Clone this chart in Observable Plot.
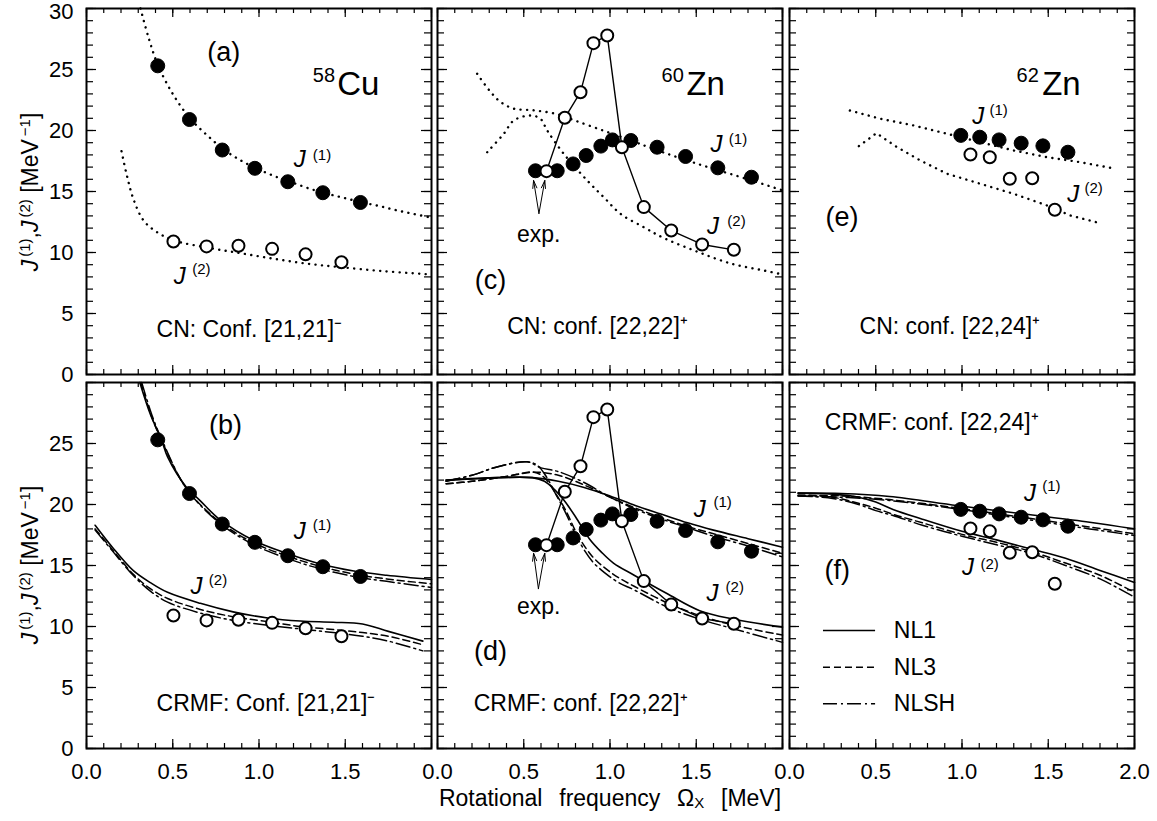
<!DOCTYPE html>
<html><head><meta charset="utf-8">
<script src="https://cdn.jsdelivr.net/npm/d3@7"></script>
<script src="https://cdn.jsdelivr.net/npm/@observablehq/plot@0.6"></script>
<style>
body{margin:0;background:#fff;}
#chart{position:relative;width:1157px;height:821px;background:#fff;font-family:'Liberation Sans',Arial,Helvetica,sans-serif;color:#000;overflow:hidden}
#chart svg{position:absolute}
.ytitle{position:absolute;white-space:nowrap;font-size:23px;line-height:23px;transform:translate(-50%,-50%) rotate(-90deg);}
.ytitle sup{font-size:15px;line-height:0;vertical-align:0.55em;margin-left:3px}
.xtitle{position:absolute;white-space:pre;font-size:23px;line-height:23px;word-spacing:2px;transform:translateX(-50%)}
.xtitle sub{font-size:15px;line-height:0;vertical-align:-0.15em}
</style></head><body><div id="chart"></div><script>
// ---------------- data ----------------
// axis ticks
const xTicks = [0.0,0.1,0.2,0.3,0.4,0.5,0.6,0.7,0.8,0.9,1.0,1.1,1.2,1.3,1.4,1.5,1.6,1.7,1.8,1.9,2.0];
const xMajorTicks = [0.0,0.5,1.0,1.5,2.0];
const yTicks = [0,1,2,3,4,5,6,7,8,9,10,11,12,13,14,15,16,17,18,19,20,21,22,23,24,25,26,27,28,29,30];
const yMajorTicks = [0,5,10,15,20,25,30];
const xTickLabels = [0.0,0.5,1.0,1.5];
const xTickLabelsLast = [0.0,0.5,1.0,1.5,2.0];
const yTickLabelsTop = [0,5,10,15,20,25];
const yTickLabelTopmost = [30];
const yTickLabelsBottom = [0,5,10,15,20,25];
const legendNames = ["NL1","NL3","NLSH"];

// 58Cu  (omega [MeV], J [MeV^-1])
const cu58ExpJ1 = [[0.413,25.3],[0.597,20.9],[0.787,18.4],[0.976,16.9],[1.167,15.8],[1.370,14.9],[1.588,14.1]];
const cu58ExpJ2 = [[0.504,10.9],[0.696,10.5],[0.881,10.55],[1.076,10.3],[1.270,9.85],[1.478,9.2]];
const cu58CnJ1 = [[0.313,30],[0.36,27.6],[0.413,25.4],[0.5,23.0],[0.6,21.0],[0.7,19.6],[0.8,18.4],[0.9,17.5],[1.0,16.8],[1.1,16.2],[1.2,15.7],[1.3,15.2],[1.4,14.8],[1.5,14.45],[1.6,14.1],[1.7,13.8],[1.8,13.45],[1.9,13.15],[2.0,12.85]];
const cu58CnJ2 = [[0.203,18.3],[0.236,16.2],[0.274,14.3],[0.332,12.6],[0.41,11.66],[0.504,11.0],[0.7,10.4],[0.89,9.95],[1.08,9.5],[1.27,9.1],[1.47,8.8],[1.72,8.47],[2.0,8.2]];
const cu58Nl1J1 = [[0.309,30],[0.37,27.4],[0.435,25.3],[0.47,23.9],[0.58,21.4],[0.66,20.3],[0.77,18.8],[0.97,17.05],[1.16,16.0],[1.35,15.15],[1.55,14.55],[1.74,14.2],[2.0,13.85]];
const cu58Nl3J1 = [[0.315,30],[0.375,27.3],[0.44,25.1],[0.58,21.3],[0.77,18.6],[0.97,16.85],[1.16,15.8],[1.35,14.95],[1.55,14.3],[1.74,13.9],[2.0,13.5]];
const cu58NlshJ1 = [[0.32,30],[0.38,27.3],[0.44,25.2],[0.58,21.3],[0.77,18.5],[0.97,16.7],[1.16,15.6],[1.35,14.75],[1.55,14.1],[1.74,13.7],[2.0,13.2]];
const cu58Nl1J2 = [[0.05,18.3],[0.15,16.5],[0.27,14.6],[0.37,13.6],[0.47,12.8],[0.66,11.9],[0.85,11.2],[1.05,10.7],[1.24,10.45],[1.43,10.35],[1.6,10.2],[1.75,9.6],[1.95,8.8]];
const cu58Nl3J2 = [[0.05,18.0],[0.15,16.3],[0.27,14.3],[0.37,13.1],[0.47,12.3],[0.66,11.4],[0.85,10.8],[1.05,10.4],[1.24,10.0],[1.43,9.75],[1.6,9.5],[1.75,9.2],[1.95,8.5]];
const cu58NlshJ2 = [[0.05,17.9],[0.15,16.2],[0.27,14.2],[0.37,12.9],[0.47,12.0],[0.66,11.1],[0.85,10.5],[1.05,10.1],[1.24,9.8],[1.43,9.5],[1.6,9.2],[1.75,8.8],[1.95,8.0]];

// 60Zn
const zn60ExpJ1 = [[0.568,16.7],[0.694,16.7],[0.786,17.26],[0.862,17.95],[0.947,18.72],[1.014,19.23],[1.121,19.18],[1.273,18.63],[1.438,17.87],[1.625,16.94],[1.820,16.17]];
const zn60ExpJ2 = [[0.632,16.67],[0.738,21.04],[0.829,23.14],[0.904,27.16],[0.984,27.79],[1.069,18.63],[1.196,13.72],[1.355,11.80],[1.534,10.66],[1.718,10.22]];
const zn60CnJ1 = [[0.23,24.65],[0.30,23.3],[0.36,22.4],[0.44,21.8],[0.56,21.65],[0.69,21.35],[0.80,20.8],[0.96,20.0],[1.1,19.3],[1.25,18.5],[1.5,17.3],[1.8,16.0],[2.0,15.1]];
const zn60CnJ2 = [[0.288,18.22],[0.384,19.73],[0.442,20.82],[0.539,21.23],[0.597,20.96],[0.636,20.0],[0.732,18.09],[0.868,15.9],[0.964,14.53],[1.061,13.17],[1.196,12.07],[1.31,11.2],[1.5,10.1],[1.7,9.1],[1.9,8.5],[2.0,8.2]];
const zn60Nl1J1 = [[0.05,22.0],[0.2,22.1],[0.35,22.2],[0.55,22.2],[0.7,21.9],[0.85,21.4],[1.0,20.7],[1.15,19.9],[1.3,19.2],[1.45,18.5],[1.6,17.9],[1.8,17.2],[2.0,16.5]];
const zn60Nl3J1 = [[0.05,21.7],[0.2,21.9],[0.4,22.3],[0.56,22.65],[0.7,22.4],[0.85,21.6],[1.0,20.6],[1.15,19.7],[1.3,18.9],[1.45,18.2],[1.6,17.6],[1.8,16.8],[2.0,16.0]];
const zn60NlshJ1 = [[0.05,21.9],[0.2,22.4],[0.35,23.1],[0.52,23.5],[0.6,23.0],[0.7,22.7],[0.85,21.8],[1.0,20.6],[1.15,19.6],[1.3,18.8],[1.45,18.1],[1.6,17.4],[1.8,16.6],[2.0,15.7]];
const zn60Nl1J2 = [[0.05,22.0],[0.35,22.2],[0.55,22.2],[0.62,21.9],[0.68,21.2],[0.73,20.4],[0.8,19.0],[0.88,17.2],[0.95,16.1],[1.02,15.2],[1.14,14.2],[1.33,12.7],[1.52,11.3],[1.72,10.6],[2.0,9.95]];
const zn60Nl3J2 = [[0.05,21.7],[0.2,21.9],[0.4,22.3],[0.56,22.65],[0.62,22.2],[0.68,21.0],[0.74,19.6],[0.82,17.3],[0.9,15.7],[0.97,14.8],[1.05,14.0],[1.14,13.3],[1.33,11.95],[1.52,10.9],[1.72,10.1],[2.0,9.3]];
const zn60NlshJ2 = [[0.05,21.9],[0.2,22.4],[0.35,23.1],[0.52,23.5],[0.58,23.2],[0.63,22.3],[0.68,21.0],[0.74,19.4],[0.82,17.0],[0.9,15.3],[0.97,14.4],[1.05,13.6],[1.14,13.0],[1.33,11.6],[1.52,10.6],[1.72,9.8],[2.0,8.7]];

// 62Zn
const zn62ExpJ1 = [[0.993,19.6],[1.103,19.45],[1.215,19.23],[1.343,18.96],[1.469,18.74],[1.614,18.22]];
const zn62ExpJ2 = [[1.049,18.03],[1.161,17.81],[1.277,16.04],[1.407,16.09],[1.538,13.5]];
const zn62CnJ1 = [[0.35,21.64],[0.528,20.96],[0.721,20.41],[0.914,19.73],[1.107,19.04],[1.3,18.36],[1.494,17.81],[1.687,17.4],[1.861,16.94]];
const zn62CnJ2 = [[0.402,18.72],[0.504,19.78],[0.624,18.63],[0.759,17.54],[0.914,16.45],[1.107,15.63],[1.3,14.81],[1.494,13.85],[1.629,13.03],[1.78,12.48]];
const zn62Nl1J1 = [[0.05,20.93],[0.3,20.9],[0.58,20.66],[0.97,19.92],[1.35,19.24],[1.74,18.55],[2.0,18.0]];
const zn62Nl3J1 = [[0.05,20.75],[0.3,20.7],[0.58,20.4],[0.97,19.72],[1.35,18.95],[1.74,18.15],[2.0,17.6]];
const zn62NlshJ1 = [[0.05,20.7],[0.3,20.6],[0.58,20.33],[0.97,19.64],[1.35,18.83],[1.74,18.0],[2.0,17.46]];
const zn62Nl1J2 = [[0.05,20.93],[0.25,20.85],[0.4,20.6],[0.5,20.2],[0.6,19.6],[0.77,18.8],[1.0,17.8],[1.2,17.1],[1.4,16.35],[1.6,15.6],[1.8,14.6],[2.0,13.6]];
const zn62Nl3J2 = [[0.05,20.75],[0.25,20.6],[0.4,20.1],[0.5,19.7],[0.6,19.2],[0.77,18.5],[1.0,17.55],[1.2,16.9],[1.4,16.15],[1.6,15.2],[1.8,14.2],[2.0,12.8]];
const zn62NlshJ2 = [[0.05,20.7],[0.25,20.5],[0.4,20.0],[0.5,19.5],[0.6,19.1],[0.77,18.3],[1.0,17.4],[1.2,16.7],[1.4,16.0],[1.6,15.0],[1.8,13.9],[2.0,12.4]];

// ---------------- drawing ----------------
const W = 345, H = 366;
const FONT = "'Liberation Sans', Arial, Helvetica, sans-serif";
const chart = document.getElementById("chart");
const X = d => d[0], Y = d => d[1];

const dotted = (data, curve = "catmull-rom") => Plot.line(data, {x: X, y: Y, curve, stroke: "black", strokeWidth: 2.4, strokeLinecap: "round", strokeDasharray: "0.1,6.4"});
const nl1 = data => Plot.line(data, {x: X, y: Y, curve: "catmull-rom", stroke: "black", strokeWidth: 1.6});
const nl3 = data => Plot.line(data, {x: X, y: Y, curve: "catmull-rom", stroke: "black", strokeWidth: 1.5, strokeDasharray: "7,4"});
const nlsh = data => Plot.line(data, {x: X, y: Y, curve: "catmull-rom", stroke: "black", strokeWidth: 1.5, strokeDasharray: "14,4,2,4"});
const filled = data => Plot.dot(data, {x: X, y: Y, r: 7, fill: "black", stroke: "black", strokeWidth: 1});
const open = data => Plot.dot(data, {x: X, y: Y, r: 6, fill: "white", stroke: "black", strokeWidth: 2});
const connect = data => Plot.line(data, {x: X, y: Y, stroke: "black", strokeWidth: 1.4});

function txt(s, x, y, o = {}) {
  return Plot.text([s], {x, y, text: d => d, fontSize: o.size || 23, textAnchor: o.anchor || "start",
    lineAnchor: o.line || "bottom", fontStyle: o.italic ? "italic" : "normal", fill: "black"});
}
function jlab(x, y, sup, sx, sy) {
  return [txt("J", x, y, {size: 24, italic: true}), txt(sup, sx, sy, {size: 15})];
}
function nuclide(mass, el, xm, xe) {
  return [txt(mass, xm, 23.96, {size: 20, anchor: "end"}), txt(el, xe, 22.95, {size: 33})];
}
function expArrows(xb, yb, xl, xr, yt) {
  return [
    Plot.arrow([0], {x1: xb, y1: yb, x2: xl, y2: yt, headLength: 12, headAngle: 30, stroke: "black", strokeWidth: 1}),
    Plot.arrow([0], {x1: xb, y1: yb, x2: xr, y2: yt, headLength: 12, headAngle: 30, stroke: "black", strokeWidth: 1})
  ];
}

function ticks() {
  const minor = {stroke: "black", strokeWidth: 1.2};
  return [
    Plot.tickX(xTicks, {x: d => d, insetTop: H - 5, ...minor}),
    Plot.tickX(xMajorTicks, {x: d => d, insetTop: H - 9, ...minor}),
    Plot.tickX(xTicks, {x: d => d, insetBottom: H - 5, ...minor}),
    Plot.tickX(xMajorTicks, {x: d => d, insetBottom: H - 9, ...minor}),
    Plot.tickY(yTicks, {y: d => d, insetRight: W - 7, ...minor}),
    Plot.tickY(yMajorTicks, {y: d => d, insetRight: W - 10, ...minor}),
    Plot.tickY(yTicks, {y: d => d, insetLeft: W - 7, ...minor}),
    Plot.tickY(yMajorTicks, {y: d => d, insetLeft: W - 10, ...minor})
  ];
}

function panel(left, top, marks, yLabels, xLabels, yTop) {
  const svg = Plot.plot({
    width: W, height: H,
    marginTop: 0, marginRight: 0, marginBottom: 0, marginLeft: 0,
    x: {domain: [0, 2], axis: null},
    y: {domain: [0, 30], axis: null},
    style: {fontFamily: FONT, background: "none", overflow: "visible", color: "black"},
    marks: [
      ...ticks(),
      ...marks,
      Plot.frame({stroke: "black", strokeWidth: 2}),
      yLabels ? Plot.axisY(yLabels, {anchor: "left", tickSize: 0, tickPadding: 13, fontSize: 22, label: null, tickFormat: d => String(d)}) : null,
      yTop ? Plot.axisY(yTop, {anchor: "left", tickSize: 0, tickPadding: 13, fontSize: 22, dy: 3, label: null, tickFormat: d => String(d)}) : null,
      xLabels ? Plot.axisX(xLabels, {anchor: "bottom", tickSize: 0, tickPadding: 15, fontSize: 22, label: null, tickFormat: d3.format(".1f")}) : null
    ]
  });
  svg.style.left = left + "px";
  svg.style.top = top + "px";
  chart.appendChild(svg);
}

// (a) 58Cu, CN
panel(86, 8, [
  dotted(cu58CnJ1), dotted(cu58CnJ2),
  filled(cu58ExpJ1), open(cu58ExpJ2),
  txt("(a)", 0.796, 26.4, {size: 27, anchor: "middle", line: "middle"}),
  ...nuclide("58", "Cu", 1.441, 1.453),
  ...jlab(1.202, 17.0, "(1)", 1.312, 17.6),
  ...jlab(0.506, 7.43, "(2)", 0.613, 8.2),
  txt("CN: Conf. [21,21]⁻", 0.406, 3.1)
], yTickLabelsTop, null, yTickLabelTopmost);

// (c) 60Zn, CN
panel(437, 8, [
  dotted(zn60CnJ1), dotted(zn60CnJ2),
  filled(zn60ExpJ1), connect(zn60ExpJ2), open(zn60ExpJ2),
  ...expArrows(0.588, 13.2, 0.557, 0.622, 15.9),
  txt("exp.", 0.587, 11.5, {size: 23, anchor: "middle", line: "middle"}),
  txt("(c)", 0.307, 7.7, {size: 27, anchor: "middle", line: "middle"}),
  ...nuclide("60", "Zn", 1.428, 1.443),
  ...jlab(1.583, 18.22, "(1)", 1.689, 18.9),
  ...jlab(1.563, 11.53, "(2)", 1.68, 12.2),
  txt("CN: conf. [22,22]⁺", 0.404, 3.3)
], null, null, null);

// (e) 62Zn, CN
panel(789, 8, [
  dotted(zn62CnJ1, "linear"), dotted(zn62CnJ2, "linear"),
  filled(zn62ExpJ1), open(zn62ExpJ2),
  txt("(e)", 0.305, 12.9, {size: 27, anchor: "middle", line: "middle"}),
  ...nuclide("62", "Zn", 1.445, 1.465),
  ...jlab(1.059, 20.5, "(1)", 1.159, 21.3),
  ...jlab(1.61, 14.1, "(2)", 1.71, 14.9),
  txt("CN: conf. [22,24]⁺", 0.406, 3.3)
], null, null, null);

// (b) 58Cu, CRMF
panel(86, 382, [
  nl1(cu58Nl1J1), nl3(cu58Nl3J1), nlsh(cu58NlshJ1),
  nl1(cu58Nl1J2), nl3(cu58Nl3J2), nlsh(cu58NlshJ2),
  filled(cu58ExpJ1), open(cu58ExpJ2),
  txt("(b)", 0.806, 26.5, {size: 27, anchor: "middle", line: "middle"}),
  ...jlab(1.202, 17.2, "(1)", 1.312, 17.9),
  ...jlab(0.603, 12.7, "(2)", 0.709, 13.4),
  txt("CRMF: Conf. [21,21]⁻", 0.406, 3.1)
], yTickLabelsBottom, xTickLabels, null);

// (d) 60Zn, CRMF
panel(437, 382, [
  nl1(zn60Nl1J1), nl3(zn60Nl3J1), nlsh(zn60NlshJ1),
  nl1(zn60Nl1J2), nl3(zn60Nl3J2), nlsh(zn60NlshJ2),
  filled(zn60ExpJ1), connect(zn60ExpJ2), open(zn60ExpJ2),
  ...expArrows(0.585, 13.1, 0.557, 0.622, 16.0),
  txt("exp.", 0.587, 11.6, {size: 23, anchor: "middle", line: "middle"}),
  txt("(d)", 0.307, 8.0, {size: 27, anchor: "middle", line: "middle"}),
  ...jlab(1.486, 18.96, "(1)", 1.60, 19.8),
  ...jlab(1.56, 12.1, "(2)", 1.67, 12.8),
  txt("CRMF: conf. [22,22]⁺", 0.21, 3.1)
], null, xTickLabels, null);

// (f) 62Zn, CRMF
panel(789, 382, [
  nl1(zn62Nl1J1), nl3(zn62Nl3J1), nlsh(zn62NlshJ1),
  nl1(zn62Nl1J2), nl3(zn62Nl3J2), nlsh(zn62NlshJ2),
  filled(zn62ExpJ1), open(zn62ExpJ2),
  txt("CRMF: conf. [22,24]⁺", 0.205, 26.1),
  txt("(f)", 0.277, 14.6, {size: 27, anchor: "middle", line: "middle"}),
  ...jlab(1.359, 20.3, "(1)", 1.465, 21.1),
  ...jlab(1.0, 14.2, "(2)", 1.107, 14.7),
  Plot.ruleY([9.67], {x1: 0.197, x2: 0.499, stroke: "black", strokeWidth: 1.6}),
  Plot.ruleY([6.66], {x1: 0.197, x2: 0.499, stroke: "black", strokeWidth: 1.5, strokeDasharray: "7,4"}),
  Plot.ruleY([3.66], {x1: 0.197, x2: 0.499, stroke: "black", strokeWidth: 1.5, strokeDasharray: "14,4,2,4"}),
  Plot.text(legendNames, {x: 0.605, y: (d, i) => [9.67, 6.66, 3.66][i], text: d => d, fontSize: 23, textAnchor: "start", lineAnchor: "middle", fill: "black"})
], null, xTickLabelsLast, null);

// axis titles (HTML text)
function ytitle(cy) {
  const d = document.createElement("div");
  d.className = "ytitle";
  d.style.left = "30px"; d.style.top = cy + "px";
  d.innerHTML = "<i>J</i><sup>(1)</sup>,<i>J</i><sup>(2)</sup> [MeV<sup>−1</sup>]";
  chart.appendChild(d);
}
ytitle(192); ytitle(565);
const xt = document.createElement("div");
xt.className = "xtitle";
xt.style.left = "610px"; xt.style.top = "787px";
xt.innerHTML = "Rotational  frequency  Ω<sub>X</sub>  [MeV]";
chart.appendChild(xt);
</script></body></html>
